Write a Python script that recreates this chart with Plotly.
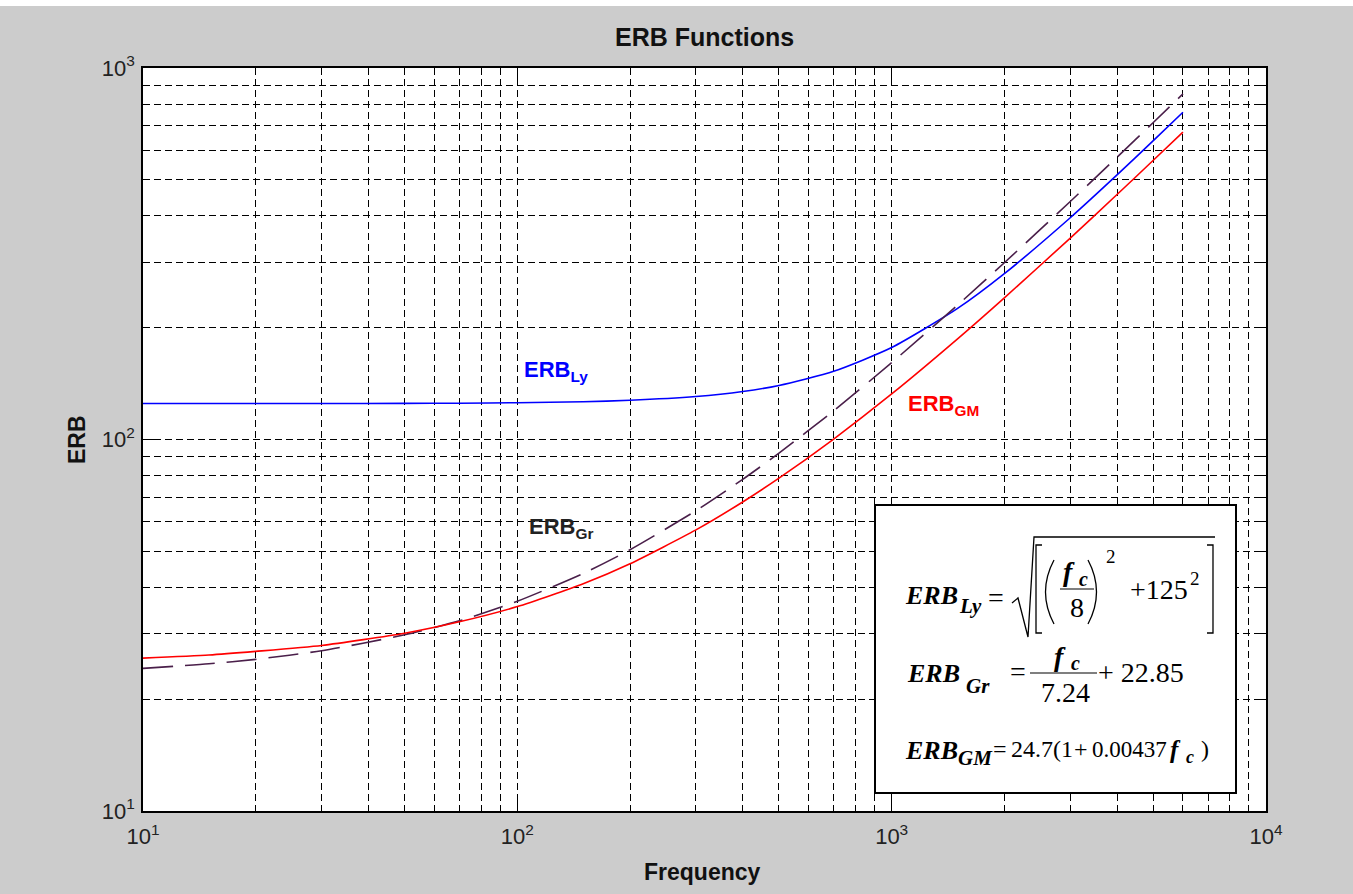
import plotly.graph_objects as go

# ---------------- data ----------------
freq = [10, 15, 20, 30, 50, 70, 100, 150, 200, 300, 400, 500, 700,
        1000, 1500, 2000, 3000, 4000, 5000, 6000]
erb_ly = [125.0, 125.0, 125.0, 125.0, 125.1, 125.2, 125.6, 126.4, 127.5, 130.5,
          134.6, 139.8, 152.6, 176.8, 225.3, 279.5, 395.3, 515.4, 637.4, 760.2]
erb_gr = [24.2, 24.9, 25.6, 27.0, 29.8, 32.5, 36.7, 43.6, 50.5, 64.3,
          78.1, 91.9, 119.5, 161.0, 230.0, 299.1, 437.2, 575.3, 713.4, 851.6]
erb_gm = [25.8, 26.3, 26.9, 27.9, 30.1, 32.3, 35.5, 40.9, 46.3, 57.1,
          67.9, 78.7, 100.3, 132.6, 186.6, 240.6, 348.5, 456.5, 564.4, 672.3]

x_major = [10, 100, 1000, 10000]
x_major_text = ["10<sup>1</sup>", "10<sup>2</sup>", "10<sup>3</sup>", "10<sup>4</sup>"]
y_major = [10, 100, 1000]
y_major_text = ["10<sup>1</sup>", "10<sup>2</sup>", "10<sup>3</sup>"]
x_minor = [m * 10 ** k for k in (1, 2, 3) for m in range(2, 10)]
y_minor = [m * 10 ** k for k in (1, 2) for m in range(2, 10)]

# ---------------- layout geometry (pixels) ----------------
W, H = 1353, 894
L, R, T, B = 143, 1266, 68, 811


def px(x):
    return (x - L) / (R - L)


def py(y):
    return (B - y) / (B - T)


def P(x, y):
    return f"{px(x):.5f},{py(y):.5f}"


GRID_DASH = "7px,4px"
SANS = "Liberation Sans"
SERIF = "Liberation Serif"

fig = go.Figure()
fig.add_trace(go.Scatter(x=freq, y=erb_ly, mode="lines", name="ERB Ly",
                         line=dict(color="#0000ff", width=1.6, shape="spline", smoothing=0.6)))
fig.add_trace(go.Scatter(x=freq, y=erb_gr, mode="lines", name="ERB Gr",
                         line=dict(color="#4a1f4a", width=1.6, dash="30px,12px",
                                   shape="spline", smoothing=0.6)))
fig.add_trace(go.Scatter(x=freq, y=erb_gm, mode="lines", name="ERB GM",
                         line=dict(color="#ff0000", width=1.6, shape="spline", smoothing=0.6)))

axis_common = dict(
    type="log", ticks="inside", ticklen=11, tickwidth=1, tickcolor="black",
    showline=True, linecolor="black", linewidth=1.5, mirror="ticks",
    showgrid=True, gridcolor="black", griddash=GRID_DASH, gridwidth=1,
    zeroline=False, tickmode="array",
    tickfont=dict(family=SANS, size=22, color="#222222"),
)

fig.update_xaxes(**axis_common, range=[1, 4], tickvals=x_major, ticktext=x_major_text,
                 ticklabelstandoff=5,
                 minor=dict(tickmode="array", tickvals=x_minor, ticks="inside", ticklen=6,
                            tickcolor="black", showgrid=True, gridcolor="black",
                            griddash=GRID_DASH, gridwidth=1))
fig.update_yaxes(**axis_common, range=[1, 3], tickvals=y_major, ticktext=y_major_text,
                 ticklabelstandoff=2,
                 minor=dict(tickmode="array", tickvals=y_minor, ticks="inside", ticklen=6,
                            tickcolor="black", showgrid=True, gridcolor="black",
                            griddash=GRID_DASH, gridwidth=1))

shapes = []
# white strip on top of the window
shapes.append(dict(type="rect", xref="paper", yref="paper", x0=px(-2), x1=px(W + 2),
                   y0=py(6), y1=py(-2), fillcolor="white", line=dict(width=0), layer="below"))
# formula box
shapes.append(dict(type="rect", xref="paper", yref="paper", x0=px(875), x1=px(1236),
                   y0=py(793), y1=py(505), fillcolor="white",
                   line=dict(color="black", width=2), layer="above"))


def path(d, w=1.3):
    shapes.append(dict(type="path", xref="paper", yref="paper", path=d,
                       line=dict(color="black", width=w), layer="above"))


# square root sign with overline
path(f"M {P(1012, 603)} L {P(1018, 598)} L {P(1028, 637)} L {P(1034, 537)} L {P(1215, 537)}")
# brackets
path(f"M {P(1042, 545)} L {P(1036, 545)} L {P(1036, 633)} L {P(1042, 633)}")
path(f"M {P(1207, 545)} L {P(1213, 545)} L {P(1213, 633)} L {P(1207, 633)}")
# parentheses
path(f"M {P(1054, 560)} Q {P(1037, 592)} {P(1054, 624)}")
path(f"M {P(1088, 560)} Q {P(1105, 592)} {P(1088, 624)}")
# fraction bars
path(f"M {P(1060, 589)} L {P(1094, 589)}", 1.2)
path(f"M {P(1030, 673)} L {P(1097, 673)}", 1.2)

annotations = []


def ann(text, x, y, size, family=SERIF, color="black", xanchor="left", yanchor="middle", angle=0):
    annotations.append(dict(text=text, x=px(x), y=py(y), xref="paper", yref="paper",
                            xanchor=xanchor, yanchor=yanchor, showarrow=False,
                            textangle=angle, font=dict(family=family, size=size, color=color)))


BI = "<b><i>{}</i></b>"

# line 1
ann(BI.format("ERB"), 903, 595, 26)
ann(BI.format("Ly"), 957, 606, 21)
ann("=", 996, 597, 28, xanchor="center")
ann(BI.format("f"), 1061, 571, 28)
ann(BI.format("c"), 1077, 579, 20)
ann("8", 1077, 607, 28, xanchor="center")
ann("2", 1104, 556, 19)
ann("+125", 1128, 589, 28)
ann("2", 1188, 578, 19)
# line 2
ann(BI.format("ERB"), 905, 673, 26)
ann(BI.format("Gr"), 964, 686, 21)
ann("=", 1018, 671, 28, xanchor="center")
ann(BI.format("f"), 1052, 656, 28)
ann(BI.format("c"), 1069, 663, 20)
ann("7.24", 1065, 692, 28, xanchor="center")
ann("+ 22.85", 1096, 672, 28)
# line 3
ann(BI.format("ERB"), 903, 750, 26)
ann(BI.format("GM"), 956, 758, 21)
ann("=", 1000, 749, 24, xanchor="center")
ann("24.7(1", 1009, 749, 24)
ann("+", 1081, 749, 24, xanchor="center")
ann("0.00437", 1090, 749, 23)
ann(BI.format("f"), 1168, 749, 25)
ann(BI.format("c"), 1184, 757, 18)
ann(")", 1199, 749, 24)

# curve labels
ann("<b>ERB<sub>Ly</sub></b>", 522, 371, 22, family=SANS, color="#0000ff")
ann("<b>ERB<sub>Gr</sub></b>", 527, 528, 22, family=SANS, color="#222222")
ann("<b>ERB<sub>GM</sub></b>", 906, 405, 22, family=SANS, color="#ff0000")

# titles
ann("<b>ERB Functions</b>", 704, 37, 25, family=SANS, color="#111111", xanchor="center")
ann("<b>Frequency</b>", 702, 872, 23, family=SANS, color="#111111", xanchor="center")
ann("<b>ERB</b>", 77, 440, 23, family=SANS, color="#111111", xanchor="center", angle=-90)

fig.update_layout(
    width=W, height=H, autosize=False,
    margin=dict(l=L, r=W - R, t=T, b=H - B, pad=0),
    paper_bgcolor="#cccccc", plot_bgcolor="white",
    showlegend=False, shapes=shapes, annotations=annotations,
)

fig.write_html("out.html", config={"displayModeBar": False},
               post_script="document.body.style.margin='0px';")
